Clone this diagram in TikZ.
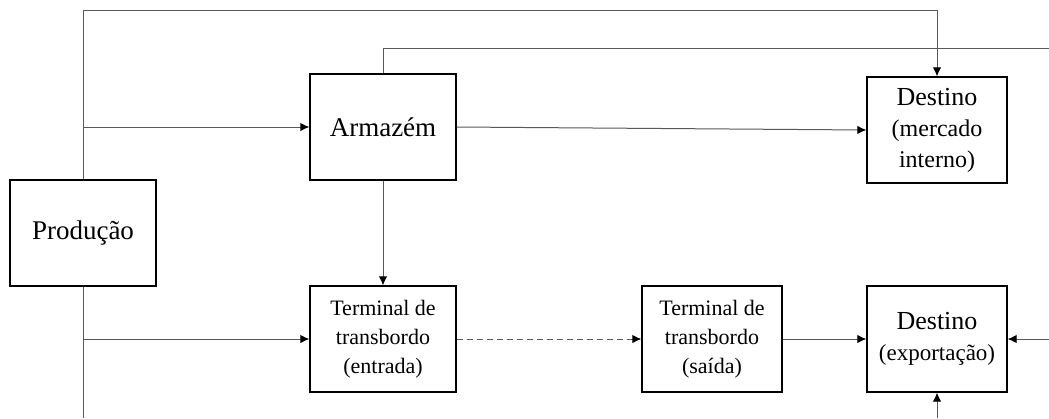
\documentclass[tikz,border=0pt]{standalone}
\usepackage{fontspec}
\setmainfont{Liberation Serif}
\usetikzlibrary{arrows.meta}
\begin{document}
\begin{tikzpicture}[x=1pt,y=-1pt,
  blk/.style={draw=black,line width=1.3pt,inner sep=0pt,align=center,
              minimum height=106pt},
  wide/.style={blk,minimum width=146pt},
  narrow/.style={blk,minimum width=140pt},
  bigtxt/.style={font=\fontsize{27}{32}\selectfont},
  termtxt/.style={font=\fontsize{22}{29}\selectfont},
  desttxt/.style={font=\fontsize{26}{31}\selectfont},
  flow/.style={draw=black!65,line width=1pt},
  arr/.style={flow,-{Latex[length=9pt,width=8.5pt,color=black]}},
]
\useasboundingbox (0,0) rectangle (1049,418);

% blocks
\node[wide,bigtxt]    (prod) at (83,233)  {Produção};
\node[wide,bigtxt]    (arm)  at (383,127) {Armazém};
\node[narrow,desttxt] (dm)   at (937,130)
  {Destino\\ \fontsize{24}{31}\selectfont(mercado\\ \fontsize{24}{31}\selectfont interno)};
\node[wide,termtxt]   (te)   at (383,339) {Terminal de\\ transbordo\\ (entrada)};
\node[narrow,termtxt] (ts)   at (712,339) {Terminal de\\ transbordo\\ (saída)};
\node[narrow,desttxt] (de)   at (937,339)
  {Destino\\ \fontsize{23}{32}\selectfont(exportação)};

% loose ends of the connectors
\coordinate (topL)  at (83,10);
\coordinate (edgeA) at (1049,48);
\coordinate (botL)  at (83,418);
\coordinate (inR)   at (1049,339);
\coordinate (inB)   at (937,418);

% connectors
\draw[arr]  (prod.north) -- (topL) -| (dm.north);
\draw[flow] (arm.north) |- (edgeA);
\draw[arr]  (prod.north |- arm.west) -- (arm.west);
\draw[arr]  (arm.east) -- (dm.west);
\draw[arr]  (arm.south) -- (te.north);
\draw[flow] (prod.south) -- (botL);
\draw[arr]  (prod.south |- te.west) -- (te.west);
\draw[arr,dash pattern=on 6pt off 4pt] (te.east) -- (ts.west);
\draw[arr]  (ts.east) -- (de.west);
\draw[arr]  (inR) -- (de.east);
\draw[arr]  (inB) -- (de.south);
\end{tikzpicture}
\end{document}
